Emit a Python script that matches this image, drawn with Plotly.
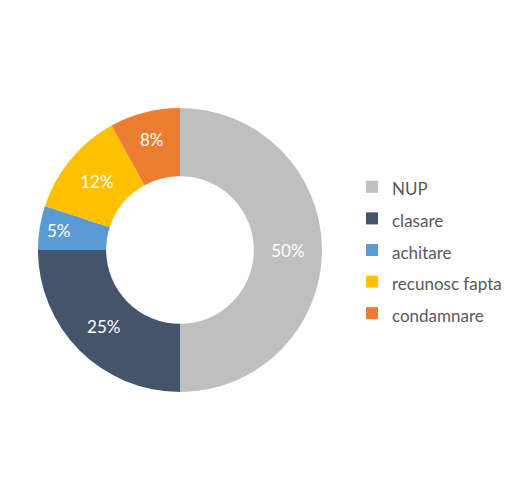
import plotly.graph_objects as go

labels = ["NUP", "clasare", "achitare", "recunosc fapta", "condamnare"]
values = [50, 25, 5, 12, 8]
colors = ["#BFBFBF", "#44546A", "#5B9BD5", "#FFC000", "#ED7D31"]

W, H = 516, 501
OFF = 8  # default page body margin

fig = go.Figure(go.Pie(
    labels=[f'<span style="font-size:17px">{l}</span>' for l in labels],
    values=values,
    hole=0.52,
    sort=False,
    direction="clockwise",
    rotation=0,
    marker=dict(colors=colors, line=dict(width=0)),
    texttemplate="%{percent:.0%}",
    textposition="inside",
    insidetextorientation="horizontal",
    textfont=dict(color="white", size=17, family="Lato"),
    domain=dict(x=[(38 - OFF) / W, (322 - OFF) / W],
                y=[1 - (392 - OFF) / H, 1 - (108 - OFF) / H]),
    hoverinfo="label+value+percent",
))

fig.update_layout(
    width=W, height=H,
    margin=dict(l=0, r=0, t=0, b=0),
    paper_bgcolor="white",
    font=dict(family="Lato", color="#595959"),
    showlegend=True,
    legend=dict(
        x=344 / W, xanchor="left",
        y=0.517, yanchor="middle",
        font=dict(size=22, color="#595959", family="Lato"),
        bgcolor="rgba(0,0,0,0)",
    ),
)

fig.write_html("out.html")
